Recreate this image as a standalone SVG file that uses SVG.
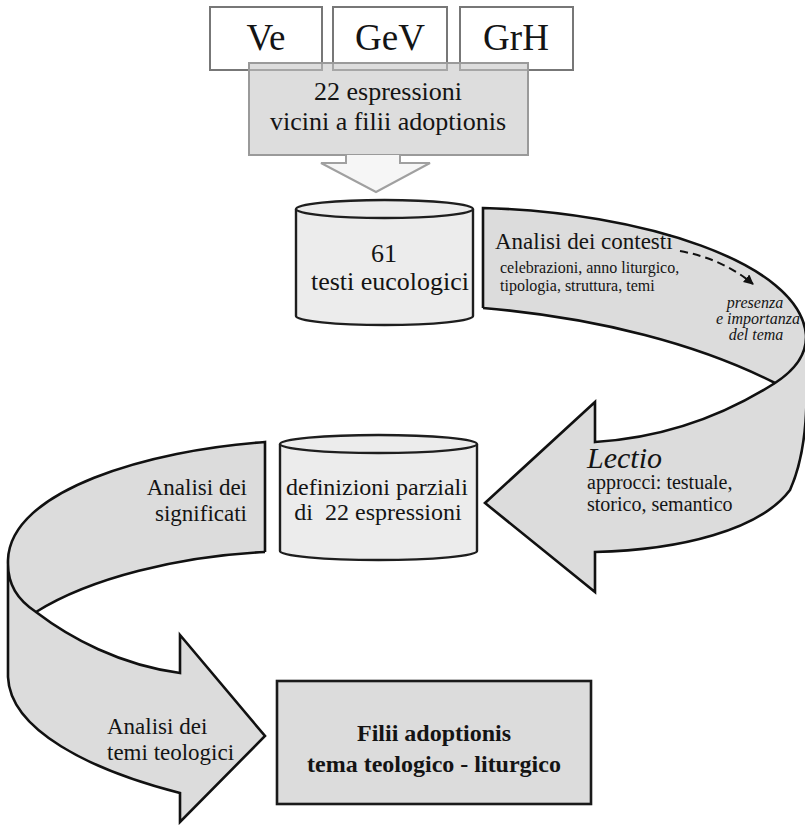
<svg xmlns="http://www.w3.org/2000/svg" width="805" height="825" viewBox="0 0 805 825">
<defs>
<style>
text{font-family:"Liberation Serif","Times New Roman",serif;fill:#141414}
.src{fill:#ffffff;stroke:#777;stroke-width:2}
.cyl{fill:#ececec;stroke:#1e1e1e;stroke-width:2.4}
.band{fill:#dcdcdc;stroke:none}
.edge{fill:none;stroke:#111;stroke-width:2.6;stroke-linejoin:miter}
.c{text-anchor:middle}
.it{font-style:italic}
</style>
<marker id="ah" viewBox="0 0 10 10" refX="9" refY="5" markerWidth="5" markerHeight="5" orient="auto">
<path d="M0,0 L10,5 L0,10 Z" fill="#111"/>
</marker>
</defs>
<rect width="805" height="825" fill="#ffffff"/>

<g id="source-ve"><rect class="src" x="210" y="7" width="112" height="63"/><text class="c" x="266" y="50" font-size="37">Ve</text></g>
<g id="source-gev"><rect class="src" x="333" y="7" width="114" height="63"/><text class="c" x="390" y="50" font-size="37">GeV</text></g>
<g id="source-grh"><rect class="src" x="460" y="7" width="113" height="63"/><text class="c" x="516" y="50" font-size="37">GrH</text></g>

<g id="espressioni">
<rect x="249" y="63" width="279" height="92" fill="#c6c6c6" fill-opacity="0.6" stroke="#9a9a9a" stroke-width="2"/>
<text class="c" x="388" y="100" font-size="26">22 espressioni</text>
<text class="c" x="388" y="130" font-size="26">vicini a filii adoptionis</text>
</g>

<g id="connectors">
<path d="M346,155 L346,163 L321,163 L376,192 L430,163 L400,163 L400,155" fill="#f6f6f6" stroke="#a0a0a0" stroke-width="2"/>

<g id="band-right">
<path class="band" d="M483,208 C640,212 800,262 806,335 C808,400 808,450 790,490 C760,530 680,550 595,552 L595,592 L485,503 L595,402 L595,442 C660,438 720,418 775,383 C700,345 600,318 483,308 Z"/>
<path class="edge" d="M483,308 L483,208 C640,212 800,262 806,335 C807,355 795,370 775,383 C720,418 660,438 595,442 L595,402 L485,503 L595,592 L595,552 C680,550 760,530 790,490 C808,450 808,400 806,335"/>
<path class="edge" d="M483,308 C600,318 700,345 775,383"/>
<path d="M680,251 Q723,259 753,284" fill="none" stroke="#111" stroke-width="2" stroke-dasharray="8,5" marker-end="url(#ah)"/>
<text x="495" y="249" font-size="23">Analisi dei contesti</text>
<text x="500" y="273" font-size="16">celebrazioni, anno liturgico,</text>
<text x="500" y="291" font-size="16">tipologia, struttura, temi</text>
<text class="c it" x="755" y="308" font-size="16">presenza</text>
<text class="c it" x="758" y="324" font-size="16">e importanza</text>
<text class="c it" x="756" y="340" font-size="16">del tema</text>
<text class="it" x="587" y="468" font-size="30">Lectio</text>
<text x="587" y="489" font-size="20">approcci: testuale,</text>
<text x="587" y="511" font-size="20">storico, semantico</text>
</g>

<g id="band-left">
<path class="band" d="M265,442 C150,450 10,490 8,560 L8,677 C10,730 90,770 180,793 L180,822 L265,736 L180,635 L180,673 C120,665 70,638 36,612 C90,578 180,556 265,552 Z"/>
<path class="edge" d="M265,552 L265,442 C150,450 10,490 8,560 C7,585 18,600 36,612 C70,638 120,665 180,673 L180,635 L265,736 L180,822 L180,793 C90,770 10,730 8,677 L8,560"/>
<path class="edge" d="M265,552 C180,556 90,578 36,612"/>
<text x="247" y="495" font-size="23" text-anchor="end">Analisi dei</text>
<text x="247" y="521" font-size="23" text-anchor="end">significati</text>
<text x="107" y="734" font-size="23">Analisi dei</text>
<text x="107" y="760" font-size="23">temi teologici</text>
</g>
</g>

<g id="testi-eucologici">
<path class="cyl" d="M296,209 L296,316 A88.5,9 0 0 0 473,316 L473,209"/>
<ellipse class="cyl" cx="384.5" cy="209" rx="88.5" ry="9"/>
<text class="c" x="384" y="262" font-size="26">61</text>
<text class="c" x="390" y="290" font-size="26">testi eucologici</text>
</g>

<g id="definizioni">
<path class="cyl" d="M280,444 L280,551 A98.5,9 0 0 0 477,551 L477,444"/>
<ellipse class="cyl" cx="378.5" cy="444" rx="98.5" ry="9"/>
<text class="c" x="377" y="495" font-size="24">definizioni parziali</text>
<text class="c" x="378" y="520" font-size="24" style="white-space:pre">di  22 espressioni</text>
</g>

<g id="filii-adoptionis">
<rect x="277" y="681" width="314" height="123" fill="#dcdcdc" stroke="#1a1a1a" stroke-width="2.6"/>
<text class="c" x="434" y="741" font-size="24" font-weight="bold">Filii adoptionis</text>
<text class="c" x="434" y="772" font-size="24" font-weight="bold">tema teologico - liturgico</text>
</g>
</svg>
